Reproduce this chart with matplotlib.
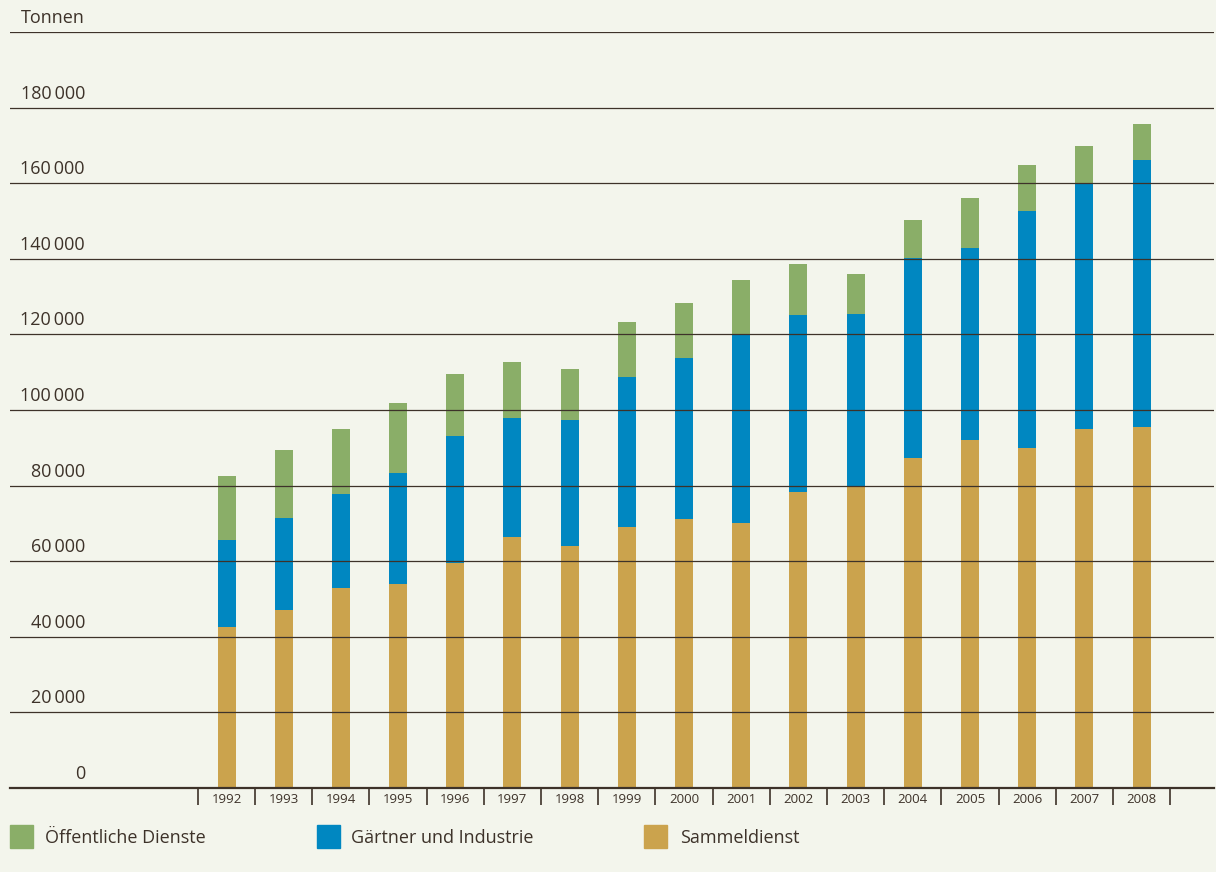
import numpy as np
import matplotlib.pyplot as plt
from matplotlib.patches import Rectangle

plt.rcParams["font.family"] = ["Open Sans", "DejaVu Sans"]

BG = "#f3f5ec"
INK = "#3d3229"
GREEN = "#8aae68"
BLUE = "#0087c1"
GOLD = "#cba34d"

years = [str(y) for y in range(1992, 2009)]
# cumulative tops (Tonnen)
sammel_top = [42500, 47200, 52800, 54100, 59400, 66500, 63900, 69000, 71100,
              70100, 78200, 79900, 87300, 92000, 89900, 94900, 95500]
gaertner_top = [65500, 71300, 77900, 83400, 93200, 98000, 97400, 108600, 113700,
                120000, 125000, 125300, 140300, 142900, 152700, 160000, 166200]
total_top = [82600, 89500, 95100, 101900, 109600, 112800, 110900, 123400, 128400,
             134500, 138500, 135900, 150300, 156100, 164900, 169900, 175700]

sammel = np.array(sammel_top)
gaertner = np.array(gaertner_top) - sammel
oeffentlich = np.array(total_top) - np.array(gaertner_top)

y_ticks = list(range(0, 200001, 20000))

W, H = 1216, 872
fig = plt.figure(figsize=(W / 100, H / 100), dpi=100, facecolor=BG)
ax = fig.add_axes([10 / W, (H - 788) / H, 1204 / W, (788 - 32) / H])
ax.set_facecolor(BG)

x = np.arange(len(years))
bw = 0.315
ax.bar(x, sammel, bw, color=GOLD, zorder=1)
ax.bar(x, gaertner, bw, bottom=sammel, color=BLUE, zorder=1)
ax.bar(x, oeffentlich, bw, bottom=sammel + gaertner, color=GREEN, zorder=1)

ax.set_xlim(-3.786, 17.267)
ax.set_ylim(0, 200000)
for s in ax.spines.values():
    s.set_visible(False)
ax.set_xticks([])
ax.set_yticks([])

for v in y_ticks[1:]:
    ax.axhline(v, color=INK, lw=0.9, zorder=2)
ax.axhline(0, color=INK, lw=1.6, zorder=3, clip_on=False)

# value labels above gridlines, right aligned
ytr = ax.get_yaxis_transform()
lab_x = (85 - 10) / 1204
for v in y_ticks[:-1]:
    txt = f"{v:,}".replace(",", "\u2009")
    ax.text(lab_x, v + 1300, txt, transform=ytr, ha="right", va="bottom",
            fontsize=13, color=INK)
ax.text(lab_x, 200000 + 1300, "Tonnen", transform=ytr, ha="right",
        va="bottom", fontsize=13, color=INK)

# year labels and separators under the axis
ax.vlines(np.arange(len(years) + 1) - 0.5, -4500, 0, color=INK, lw=1.2,
          clip_on=False)
for i, yr in enumerate(years):
    ax.text(i, -1200, yr, ha="center", va="top", fontsize=9.5, color=INK,
            clip_on=False)

# legend
legend = [("Öffentliche Dienste", GREEN, 10, 45),
          ("Gärtner und Industrie", BLUE, 317, 351),
          ("Sammeldienst", GOLD, 644, 680)]
for label, col, sx, tx in legend:
    fig.patches.append(Rectangle((sx / W, (H - 848) / H), 23 / W, 23 / H,
                                 transform=fig.transFigure, color=col))
    fig.text(tx / W, (H - 838) / H, label, ha="left", va="center",
             fontsize=13, color=INK)

fig.savefig("out.png", dpi=100, facecolor=BG)
